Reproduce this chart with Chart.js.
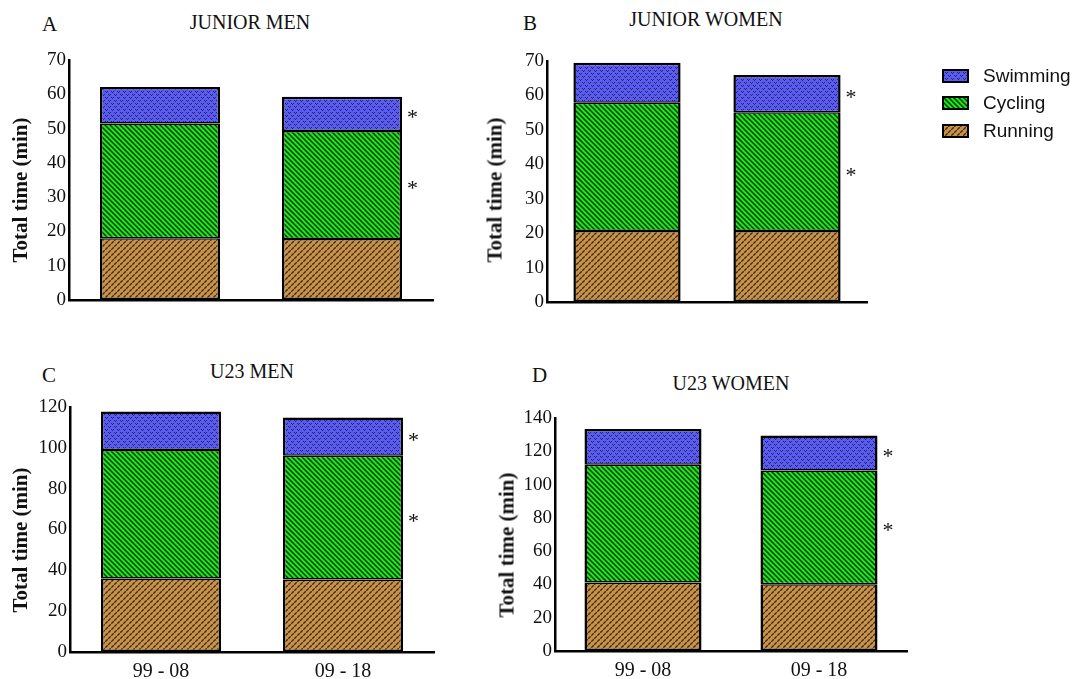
<!DOCTYPE html>
<html>
<head>
<meta charset="utf-8">
<script src="https://cdn.jsdelivr.net/npm/chart.js@4.4.1/dist/chart.umd.min.js"></script>
<style>
  body { margin: 0; background: #fff; width: 1072px; height: 679px; overflow: hidden; position: relative;
         font-family: "Liberation Serif", "Times New Roman", serif; color: #111; }
  .panel { position: absolute; }
  .letter { position: absolute; font-size: 21px; line-height: 1; }
  .title { position: absolute; font-size: 20px; line-height: 1; white-space: nowrap; transform: translateX(-50%); }
  .ytitle { position: absolute; font-size: 21px; font-weight: bold; line-height: 1; white-space: nowrap;
            transform: translate(-50%, -50%) rotate(-90deg); }
  #legend { position: absolute; left: 942px; top: 62px; font-family: "Liberation Sans", Arial, sans-serif; font-size: 19px; }
  #legend .item { display: flex; align-items: center; height: 27.5px; }
  #legend canvas { margin-right: 14px; }
</style>
</head>
<body>

<div class="letter" style="left:42px;top:14px">A</div>
<div class="title" style="left:250px;top:12px">JUNIOR MEN</div>
<div class="letter" style="left:523px;top:13px">B</div>
<div class="title" style="left:706px;top:9px">JUNIOR WOMEN</div>
<div class="letter" style="left:42px;top:365px">C</div>
<div class="title" style="left:252px;top:361px">U23 MEN</div>
<div class="letter" style="left:532px;top:365px">D</div>
<div class="title" style="left:731px;top:373px">U23 WOMEN</div>

<canvas id="chartA" class="panel" style="left:0px;top:40px" width="450" height="300"></canvas>
<canvas id="chartB" class="panel" style="left:480px;top:40px" width="400" height="300"></canvas>
<canvas id="chartC" class="panel" style="left:0px;top:390px" width="450" height="289"></canvas>
<canvas id="chartD" class="panel" style="left:480px;top:390px" width="440" height="289"></canvas>

<div class="ytitle" style="left:20px;top:190px">Total time (min)</div>
<div class="ytitle" style="left:495px;top:190px">Total time (min)</div>
<div class="ytitle" style="left:20px;top:540px">Total time (min)</div>
<div class="ytitle" style="left:507px;top:545px">Total time (min)</div>

<div id="legend"></div>

<script>
// ===== DATA (minutes) =====
const periods = ['99 - 08', '09 - 18'];
const disciplines = ['Swimming', 'Cycling', 'Running'];
// segments marked with * on the 09-18 bar
const marked = ['Swimming', 'Cycling'];

const juniorMenRun = [18.0, 17.8];
const juniorMenCyc = [33.5, 31.5];
const juniorMenSwim = [10.6, 10.0];

const juniorWomenRun = [20.6, 20.6];
const juniorWomenCyc = [37.3, 34.5];
const juniorWomenSwim = [11.6, 10.8];

const u23MenRun = [36.0, 35.5];
const u23MenCyc = [63.0, 60.6];
const u23MenSwim = [18.8, 18.8];

const u23WomenRun = [41.1, 40.1];
const u23WomenCyc = [70.8, 68.4];
const u23WomenSwim = [21.5, 21.0];

const ticksA = { max: 70, step: 10 };
const ticksB = { max: 70, step: 10 };
const ticksC = { max: 120, step: 20 };
const ticksD = { max: 140, step: 20 };

const serif = "'Liberation Serif', 'Times New Roman', serif";
Chart.defaults.font.family = serif;
Chart.defaults.color = '#111';

// ===== PATTERNS =====
function tile(w, h, draw) {
    const c = document.createElement('canvas');
    c.width = w; c.height = h;
    draw(c.getContext('2d'));
    return c;
}

const tiles = {
    Swimming: tile(6, 6, g => {
        g.fillStyle = '#5a5cf0'; g.fillRect(0, 0, 6, 6);
        g.fillStyle = '#23236e';
        [[0, 0], [1, 1], [2, 0], [3, 3], [4, 4], [5, 3]].forEach(p => g.fillRect(p[0], p[1], 1, 1));
    }),
    Cycling: tile(5, 5, g => {
        g.fillStyle = '#14ec14'; g.fillRect(0, 0, 5, 5);
        g.strokeStyle = '#0b2a0b'; g.lineWidth = 1.4;
        g.beginPath();
        g.moveTo(-1, -1); g.lineTo(6, 6);
        g.moveTo(-1, 4); g.lineTo(1, 6);
        g.moveTo(4, -1); g.lineTo(6, 1);
        g.stroke();
    }),
    Running: tile(6, 6, g => {
        g.fillStyle = '#c8924a'; g.fillRect(0, 0, 6, 6);
        g.strokeStyle = '#3b2a12'; g.lineWidth = 1.3;
        g.beginPath();
        g.moveTo(0.3, 2.7); g.lineTo(2.7, 0.3);
        g.moveTo(3.3, 5.7); g.lineTo(5.7, 3.3);
        g.stroke();
    })
};

function pattern(ctx, name) {
    return ctx.createPattern(tiles[name], 'repeat');
}

// outer edges thick, shared edges split between the two segments
const edges = {
    Running: { top: 1.5, bottom: 2.5, left: 2.5, right: 2.5 },
    Cycling: { top: 1.5, bottom: 1.5, left: 2.5, right: 2.5 },
    Swimming: { top: 2.5, bottom: 1.5, left: 2.5, right: 2.5 }
};

// ===== ASTERISKS =====
const starPlugin = {
    id: 'stars',
    afterDatasetsDraw(chart, args, opts) {
        const ctx = chart.ctx;
        ctx.save();
        ctx.font = "22px " + serif;
        ctx.fillStyle = '#111';
        ctx.textAlign = 'left';
        ctx.textBaseline = 'alphabetic';
        chart.data.datasets.forEach((ds, i) => {
            if (!opts.marked.includes(ds.label)) return;
            const el = chart.getDatasetMeta(i).data[opts.index];
            ctx.fillText('*', el.x + el.width / 2 + 5, (el.y + el.base) / 2 + 10);
        });
        ctx.restore();
    }
};

// ===== PANELS =====
function makePanel(id, run, cyc, swim, yt, box) {
    const canvas = document.getElementById(id);
    const ctx = canvas.getContext('2d');
    const seg = (label, data) => ({
        label, data,
        backgroundColor: pattern(ctx, label),
        borderColor: '#000', borderWidth: edges[label], borderSkipped: false,
        barPercentage: box.bar, categoryPercentage: 1
    });
    return new Chart(canvas, {
        type: 'bar',
        data: {
            labels: periods,
            datasets: [seg('Running', run), seg('Cycling', cyc), seg('Swimming', swim)]
        },
        options: {
            responsive: false, animation: false,
            layout: { padding: { left: box.left, top: box.top, right: box.right, bottom: 0 } },
            plugins: {
                legend: { display: false }, tooltip: { enabled: false },
                stars: { marked, index: 1 }
            },
            scales: {
                x: {
                    stacked: true,
                    grid: { display: false, drawTicks: false },
                    border: { display: true, color: '#000', width: 2.5 },
                    ticks: { display: box.showX, color: '#111', padding: 8, font: { family: serif, size: 20 } },
                    afterFit: s => { s.height = box.xh; }
                },
                y: {
                    stacked: true, min: 0, max: yt.max,
                    grid: { display: false, drawTicks: false },
                    border: { display: true, color: '#000', width: 2.5 },
                    ticks: { stepSize: yt.step, color: '#111', padding: 3, font: { family: serif, size: 19 } },
                    afterFit: s => { s.width = box.yw; }
                }
            }
        },
        plugins: [starPlugin]
    });
}

makePanel('chartA', juniorMenRun, juniorMenCyc, juniorMenSwim, ticksA,
    { left: 3, top: 20, right: 17, yw: 66, xh: 40, bar: 0.66, showX: false });
makePanel('chartB', juniorWomenRun, juniorWomenCyc, juniorWomenSwim, ticksB,
    { left: 0, top: 21, right: 13, yw: 67, xh: 38, bar: 0.67, showX: false });
makePanel('chartC', u23MenRun, u23MenCyc, u23MenSwim, ticksC,
    { left: 3, top: 17, right: 16, yw: 67, xh: 27, bar: 0.66, showX: true });
makePanel('chartD', u23WomenRun, u23WomenCyc, u23WomenSwim, ticksD,
    { left: 11, top: 28, right: 13, yw: 64, xh: 28, bar: 0.665, showX: true });

// ===== LEGEND =====
const legend = document.getElementById('legend');
disciplines.forEach(name => {
    const item = document.createElement('div');
    item.className = 'item';
    const sw = document.createElement('canvas');
    sw.width = 27; sw.height = 14;
    const g = sw.getContext('2d');
    g.fillStyle = pattern(g, name);
    g.fillRect(1, 1, 25, 12);
    g.strokeStyle = '#000'; g.lineWidth = 2;
    g.strokeRect(1, 1, 25, 12);
    const txt = document.createElement('span');
    txt.textContent = name;
    item.appendChild(sw);
    item.appendChild(txt);
    legend.appendChild(item);
});
</script>
</body>
</html>
